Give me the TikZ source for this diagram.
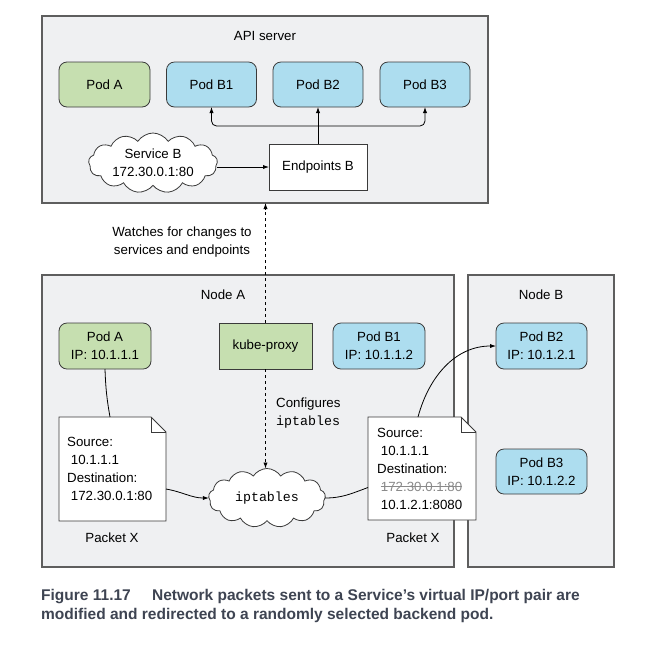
\documentclass[tikz,border=0pt]{standalone}
\usepackage{fontspec}
\setmainfont{Liberation Sans}
\setmonofont{Liberation Mono}
\newfontfamily\capfont{Liberation Sans}
\usetikzlibrary{shapes.symbols,arrows.meta}

\definecolor{panelgray}{HTML}{EFF0F2}
\definecolor{podgreen}{HTML}{C6DFB0}
\definecolor{podblue}{HTML}{ADDDEF}
\definecolor{edgegray}{HTML}{5E5E5E}
\definecolor{podedge}{HTML}{3A3A3A}
\definecolor{captext}{HTML}{3E4452}
\definecolor{strikegray}{HTML}{8A8A8A}

\newsavebox\strikebox
\newcommand\struck[1]{\sbox\strikebox{#1}\rlap{\color{strikegray}#1}{\color{strikegray}\rule[0.3em]{\wd\strikebox}{0.7pt}}}

\begin{document}
\begin{tikzpicture}[x=1pt, y=-1pt,
  font=\fontsize{13.3}{18}\selectfont,
  panel/.style={draw=edgegray, line width=1.1pt, fill=panelgray, inner sep=0pt, outer sep=0pt},
  podbox/.style={draw=podedge, line width=0.8pt, rounded corners=8pt, inner sep=0pt, outer sep=0pt, align=center},
  greenpod/.style={podbox, fill=podgreen},
  bluepod/.style={podbox, fill=podblue},
  plainbox/.style={draw=podedge, line width=0.8pt, inner sep=0pt, outer sep=0pt, align=center},
  cloudbox/.style={cloud, cloud puffs=13, cloud puff arc=115, cloud ignores aspect, draw=podedge, line width=0.8pt, fill=white, inner sep=0pt, outer sep=0pt, align=center},
  frame/.style={inner sep=0pt, outer sep=0pt},
  pktline/.style={draw=podedge, line width=0.8pt, fill=white, line join=miter},
  pktext/.style={inner sep=0pt, align=left},
  conn/.style={line width=0.8pt, draw=black},
  tip/.style={-{Latex[length=6pt,width=4.2pt]}},
  caption/.style={inner sep=0pt, align=left, text=captext, font=\capfont\bfseries\fontsize{15.5}{18.5}\selectfont}
]
\useasboundingbox (0,0) rectangle (652,649);
\fill[white] (0,0) rectangle (652,649);

% --- panels ---
\node[panel, minimum width=446, minimum height=187] (api) at (265,109.5) {};
\node[panel, minimum width=412, minimum height=292] (nodeA) at (248,421) {};
\node[panel, minimum width=146, minimum height=292] (nodeB) at (541,421) {};

\node (apilabel) at (265,36) {API server};
\node (nodeAlabel) at (223,295) {Node A};
\node (nodeBlabel) at (541,295) {Node B};

% --- API server contents ---
\node[greenpod, minimum width=91, minimum height=45] (apiPodA) at (104.5,84.5) {Pod A};
\node[bluepod, minimum width=90, minimum height=45] (apiB1) at (211.5,84.5) {Pod B1};
\node[bluepod, minimum width=90, minimum height=45] (apiB2) at (318,84.5) {Pod B2};
\node[bluepod, minimum width=90, minimum height=45] (apiB3) at (425,84.5) {Pod B3};

\node[cloudbox, minimum width=129, minimum height=60] (svc) at (153,163) {Service B\\172.30.0.1:80};
\node[plainbox, fill=white, minimum width=98, minimum height=46] (ep) at (318,167) {Endpoints B};

\draw[conn, tip] (svc.east |- ep.west) -- (ep.west);
\coordinate (hub) at (318,126);
\draw[conn, tip] (ep.north) -- (apiB2.south);
\draw[conn, tip, rounded corners=5pt] (hub) -| (apiB1.south);
\draw[conn, tip, rounded corners=5pt] (hub) -| (apiB3.south);

% --- Node A contents ---
\node[greenpod, minimum width=92, minimum height=46] (podA) at (105,346) {Pod A\\IP: 10.1.1.1};
\node[plainbox, fill=podgreen, minimum width=93, minimum height=46] (proxy) at (265.5,346) {kube-proxy};
\node[bluepod, minimum width=92, minimum height=46] (podB1) at (379,346) {Pod B1\\IP: 10.1.1.2};

\node[cloudbox, minimum width=117, minimum height=59] (ipt) at (267,498) {\ttfamily iptables};

% packet leaving Pod A
\node[frame, minimum width=107, minimum height=104] (pktA) at (112.5,469) {};
\draw[pktline] (pktA.south west) -- (pktA.north west) -- ([xshift=-15pt]pktA.north east)
  -- ([yshift=-15pt]pktA.north east) -- (pktA.south east) -- cycle;
\draw[pktline, fill=none] ([xshift=-15pt]pktA.north east) -- ([xshift=-15pt,yshift=-15pt]pktA.north east)
  -- ([yshift=-15pt]pktA.north east);
\node[pktext, anchor=west] (pktAtext) at ([xshift=8pt]pktA.west) {Source:\\\ 10.1.1.1\\Destination:\\\ 172.30.0.1:80};
\node (pktAlabel) at (112,538) {Packet X};

% packet after iptables rewrote its destination
\node[frame, minimum width=108, minimum height=103] (pktB) at (422,468.5) {};
\draw[pktline] (pktB.south west) -- (pktB.north west) -- ([xshift=-15pt]pktB.north east)
  -- ([yshift=-15pt]pktB.north east) -- (pktB.south east) -- cycle;
\draw[pktline, fill=none] ([xshift=-15pt]pktB.north east) -- ([xshift=-15pt,yshift=-15pt]pktB.north east)
  -- ([yshift=-15pt]pktB.north east);
\node[pktext, anchor=west] (pktBtext) at ([xshift=9pt]pktB.west) {Source:\\\ 10.1.1.1\\Destination:\\\ \struck{172.30.0.1:80}\\\ 10.1.2.1:8080};
\node (pktBlabel) at (413,538) {Packet X};

\node[pktext, anchor=west] (cfg) at (276,413.5) {Configures\\{\ttfamily iptables}};
\node[align=center, inner sep=0pt] (watch) at (182,242) {Watches for changes to\\services and endpoints};

% --- Node B contents ---
\node[bluepod, minimum width=91, minimum height=46] (podB2) at (541.5,346) {Pod B2\\IP: 10.1.2.1};
\node[bluepod, minimum width=91, minimum height=45] (podB3) at (541.5,471.5) {Pod B3\\IP: 10.1.2.2};

% --- connectors ---
\draw[conn, dashed, tip] (proxy.north) -- (proxy.north |- api.south);
\draw[conn, dashed, tip] (proxy.south) -- (proxy.south |- ipt.north);
\draw[conn] (podA.south) to[out=-88, in=100] ([xshift=-2.5pt]pktA.north);
\draw[conn, tip] ([yshift=-72pt]pktA.north east) to[out=-10, in=180] (ipt.west);
\draw[conn] (ipt.east) to[out=0, in=200] ([yshift=-19pt]pktB.west);
\draw[conn, tip] ([xshift=-4pt]pktB.north) to[out=75, in=180] (podB2.west);

% --- caption ---
\node[caption, anchor=west] (cap) at (41,606) {Figure 11.17\hspace{1.1em} Network packets sent to a Service’s virtual IP/port pair are\\modified and redirected to a randomly selected backend pod.};
\end{tikzpicture}
\end{document}
